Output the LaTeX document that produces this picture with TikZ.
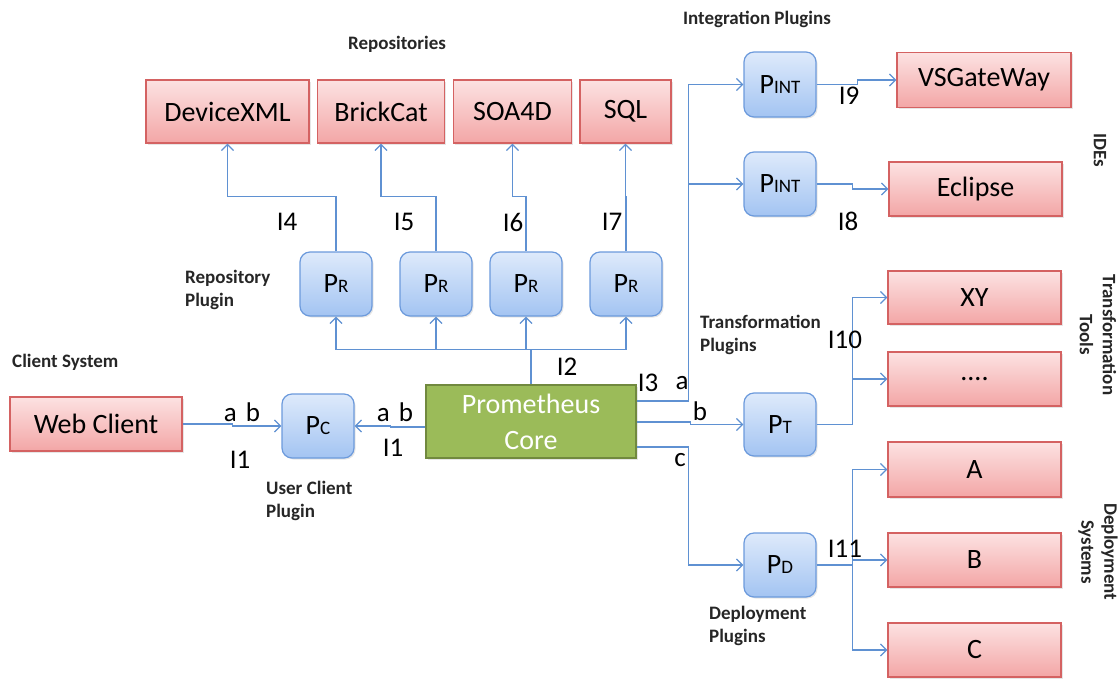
\documentclass[tikz,border=0pt]{standalone}
\usepackage{fontspec}
\setmainfont{Carlito}
\usetikzlibrary{arrows.meta,shadows,calc}
\definecolor{redline}{RGB}{212,98,98}
\definecolor{redtop}{RGB}{252,226,226}
\definecolor{redbot}{RGB}{243,166,166}
\definecolor{bluetop}{RGB}{222,234,251}
\definecolor{bluebot}{RGB}{163,196,242}
\definecolor{blueline}{RGB}{108,154,220}
\definecolor{connc}{RGB}{95,145,210}
\definecolor{corefill}{RGB}{155,187,89}
\definecolor{coreline}{RGB}{113,137,63}
\tikzset{
  redbox/.style={draw=redline, line width=1.2pt, top color=redtop, bottom color=redbot,
    font=\fontsize{28}{30}\selectfont, inner sep=0pt,
    drop shadow={opacity=0.2, shadow xshift=1.5pt, shadow yshift=-1.5pt}},
  plug/.style={draw=blueline, line width=1.2pt, top color=bluetop, bottom color=bluebot,
    rounded corners=10pt, minimum width=72pt, minimum height=64pt, inner sep=0pt,
    font=\fontsize{28}{30}\selectfont,
    drop shadow={opacity=0.2, shadow xshift=1.5pt, shadow yshift=-1.5pt}},
  corebox/.style={draw=coreline, line width=1.5pt, fill=corefill, text=white,
    font=\fontsize{28}{36}\selectfont, align=center, inner sep=0pt,
    drop shadow={opacity=0.2, shadow xshift=1.5pt, shadow yshift=-1.5pt}},
  line/.style={draw=connc, line width=1.3pt},
  conn/.style={line, -{Straight Barb[length=6pt,width=12pt]}},
  lab/.style={font=\fontsize{27}{29}\selectfont, inner sep=0pt},
  grp/.style={font=\fontsize{19}{23}\selectfont\bfseries, inner sep=0pt, text=black!85},
}
\newcommand{\sm}[1]{{\fontsize{19}{19}\selectfont #1}}
\begin{document}
\begin{tikzpicture}[x=1pt,y=-1pt]
\useasboundingbox (0,0) rectangle (1120,678);
% repositories
\node[redbox, minimum width=163pt, minimum height=63pt] (dev) at (227.5,111.5) {DeviceXML};
\node[redbox, minimum width=127pt, minimum height=63pt] (brick) at (381,111.5) {BrickCat};
\node[redbox, minimum width=118pt, minimum height=63pt] (soa) at (512.5,111.5) {SOA4D};
\node[redbox, minimum width=91pt, minimum height=63pt] (sql) at (625.5,111.5) {SQL};
% IDEs
\node[redbox, minimum width=174pt, minimum height=55pt] (vsg) at (984,80) {VSGateWay};
\node[redbox, minimum width=173pt, minimum height=54pt] (ecl) at (975.5,189) {Eclipse};
% tools
\node[redbox, minimum width=173pt, minimum height=53pt] (xy) at (974.5,297.5) {XY};
\node[redbox, minimum width=173pt, minimum height=54pt] (dots) at (974.5,379) {....};
% deployment
\node[redbox, minimum width=173pt, minimum height=55pt] (da) at (974.5,469.5) {A};
\node[redbox, minimum width=173pt, minimum height=54pt] (db) at (974.5,560) {B};
\node[redbox, minimum width=173pt, minimum height=54pt] (dc) at (974.5,650) {C};
% client
\node[redbox, minimum width=172pt, minimum height=54pt] (web) at (96,424) {Web Client};
% plugins
\node[plug] (pr1) at (336,284) {P\sm{R}};
\node[plug] (pr2) at (436,284) {P\sm{R}};
\node[plug] (pr3) at (526,284) {P\sm{R}};
\node[plug] (pr4) at (626,284) {P\sm{R}};
\node[plug, minimum height=65pt] (pint1) at (780,84.5) {P\sm{INT}};
\node[plug] (pint2) at (780,184) {P\sm{INT}};
\node[plug, minimum height=63pt] (pt) at (780,424.5) {P\sm{T}};
\node[plug] (pd) at (780,565) {P\sm{D}};
\node[plug] (pc) at (318,426) {P\sm{C}};
% core
\node[corebox, minimum width=210pt, minimum height=73pt] (core) at (531,421.5) {Prometheus\\Core};
% repository connectors
\draw[conn] (pr1.north) -- ++(0,-55) -| (dev.south);
\draw[conn] (pr2.north) -- ++(0,-55) -| (brick.south);
\draw[conn] (pr3.north) -- ++(0,-55) -| (soa.south);
\draw[conn] (pr4.north) -- ++(0,-55) -| (sql.south);
\draw[line] (core.north) -- ++(0,-35) coordinate (bus);
\draw[conn] (bus) -| (pr1.south);
\draw[conn] (bus) -| (pr2.south);
\draw[conn] (bus) -| (pr3.south);
\draw[conn] (bus) -| (pr4.south);
% client connectors
\draw[conn] (web.east) -- ++(50,0) |- (pc.west);
\draw[conn] ([yshift=-5.5pt]core.west) -- ++(-35,0) |- (pc.east);
% integration
\draw[conn] ([yshift=20.5pt]core.east) -| ([xshift=-55pt]pint1.west) -- (pint1.west);
\draw[conn] ([xshift=-55pt]pint2.west) -- (pint2.west);
\draw[conn] (pint1.east) -- ++(41,0) |- (vsg.west);
\draw[conn] (pint2.east) -- ++(36,0) |- (ecl.west);
% transformation
\draw[conn] ([yshift=-0.5pt]core.east) -- ++(54,0) |- (pt.west);
\draw[conn] (pt.east) -- ++(36,0) coordinate (tv) |- (xy.west);
\draw[conn] (tv) |- (dots.west);
% deployment
\draw[conn] ([yshift=-25.5pt]core.east) -| ([xshift=-55pt]pd.west) -- (pd.west);
\draw[line] (pd.east) -- ++(36,0) coordinate (dv);
\draw[conn] (dv) |- (da.west);
\draw[conn] (dv) |- (db.west);
\draw[conn] (dv) |- (dc.west);
% connector labels
\node[lab] (l4) at (287,222) {I4};
\node[lab] (l5) at (404,222) {I5};
\node[lab] (l6) at (513,222) {I6};
\node[lab] (l7) at (612,222) {I7};
\node[lab] (l2) at (567,367) {I2};
\node[lab] (l3) at (648,383) {I3};
\node[lab] (la) at (682,383) {a};
\node[lab] (lb) at (700,411) {b};
\node[lab] (lc) at (680,460) {c};
\node[lab] (l9) at (849,96) {I9};
\node[lab] (l8) at (848,221) {I8};
\node[lab] (l10) at (845,340) {I10};
\node[lab] (l11) at (845,549) {I11};
\node[lab] (lab1) at (242,412) {a\,\,b};
\node[lab] (li1) at (240,460) {I1};
\node[lab] (lab2) at (395,412) {a\,\,b};
\node[lab] (li1b) at (393,448) {I1};
% group labels
\node[grp] (g1) at (397,44) {Repositories};
\node[grp] (g2) at (757,19) {Integration Plugins};
\node[grp, anchor=west, align=left] (g3) at (185,290) {Repository\\Plugin};
\node[grp, anchor=west] (g4) at (12,362) {Client System};
\node[grp, anchor=west, align=left] (g5) at (266,501) {User Client\\Plugin};
\node[grp, anchor=west, align=left] (g6) at (700,335) {Transformation\\Plugins};
\node[grp, anchor=west, align=left] (g7) at (709,626) {Deployment\\Plugins};
\node[grp, rotate=-90] (g8) at (1100,150) {IDEs};
\node[grp, rotate=-90, align=center] (g9) at (1098,335) {Transformation\\Tools};
\node[grp, rotate=-90, align=center] (g10) at (1098,552) {Deployment\\Systems};
\end{tikzpicture}
\end{document}
